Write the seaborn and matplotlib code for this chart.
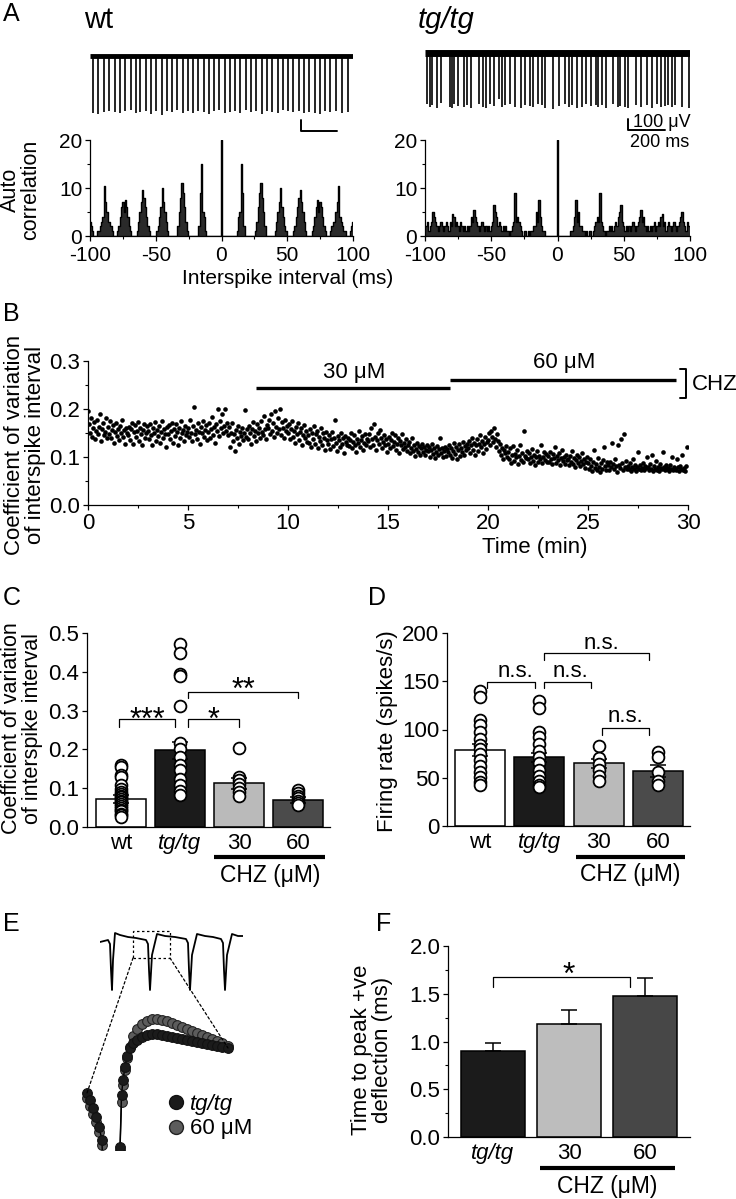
import numpy as np
import pandas as pd
import matplotlib
matplotlib.use('Agg')
import matplotlib.pyplot as plt
from matplotlib.patches import Rectangle, ConnectionPatch
from matplotlib.lines import Line2D
from matplotlib.ticker import MultipleLocator, FormatStrFormatter
import seaborn as sns

W, H = 736, 1199

# ---------------- A: raw traces (spike times in ms, spike depth in uV)
wt_spike_ms = [15, 45, 75, 106, 137, 166, 193, 224, 251, 278,
               306, 337, 364, 397, 424, 451, 482, 511, 539, 570,
               597, 628, 655, 684, 712, 743, 770, 801, 828, 859,
               888, 915, 946, 976, 1003, 1034, 1063, 1092, 1121, 1152,
               1179, 1210, 1238, 1267, 1298, 1325, 1358, 1389, 1420]
wt_spike_uv = [-520, -535, -510, -500, -515, -525, -505, -495, -520, -510,
               -500, -530, -505, -540, -500, -515, -495, -520, -505, -525,
               -500, -510, -530, -505, -495, -520, -510, -500, -525, -495,
               -515, -505, -530, -500, -510, -520, -495, -505, -515, -500,
               -525, -510, -520, -530, -500, -515, -505, -520, -510]
tg_spike_ms = [9, 28, 41, 68, 87, 135, 148, 161, 179, 213,
               231, 250, 296, 315, 333, 355, 376, 407, 422, 440,
               463, 490, 527, 546, 574, 592, 620, 638, 657, 703,
               731, 768, 786, 805, 833, 860, 879, 907, 934, 949,
               971, 993, 1027, 1055, 1067, 1097, 1110, 1156, 1184, 1215,
               1240, 1267, 1289, 1314, 1327, 1351, 1369, 1406, 1443]
tg_spike_uv = [-470, -490, -480, -500, -460, -490, -505, -470, -485, -495,
               -480, -500, -470, -490, -505, -465, -485, -420, -495, -480,
               -470, -490, -500, -475, -485, -495, -470, -480, -500, -510,
               -485, -470, -495, -480, -500, -490, -465, -485, -475, -495,
               -480, -500, -470, -490, -485, -495, -505, -475, -490, -480,
               -500, -470, -490, -485, -475, -495, -480, -490, -500]

# autocorrelograms: counts per 1 ms bin for lags 0..100 (symmetric histogram)
wt_acorr_pos = [20, 0, 0, 0, 0, 0, 0, 0, 0, 0,
                0, 0, 1, 4, 5, 15, 9, 2, 0, 0,
                0, 0, 0, 0, 0, 0, 1, 3, 6, 9,
                11, 8, 5, 2, 0, 0, 0, 0, 0, 0,
                0, 1, 3, 5, 7, 10, 6, 4, 2, 1,
                0, 0, 0, 0, 0, 1, 2, 4, 6, 8,
                9.5, 7, 5, 3, 1, 0, 0, 0, 0, 1,
                2, 4, 6, 7.5, 5, 7, 6, 4, 2, 1,
                0, 0, 0, 1, 2, 3, 3, 5, 7, 10.5,
                4, 3, 2, 1, 1, 0, 0, 0, 1, 2,
                3]
tg_acorr_pos = [20, 0, 0, 0, 0, 0, 0, 0, 0, 0,
                1, 1, 2, 4, 7.5, 3, 5, 2, 2, 1,
                1, 0, 1, 0, 1, 1, 0, 1, 2, 3,
                4, 3, 9, 3, 2, 1, 0, 1, 1, 2,
                1, 2, 1, 2, 3, 2, 4, 5, 6.5, 3,
                2, 1, 2, 1, 2, 1, 2, 3, 2, 1,
                2, 3, 4, 5.5, 3, 4, 2, 1, 2, 1,
                2, 1, 2, 3, 1, 2, 3, 2, 4, 4.5,
                2, 3, 1, 2, 3, 2, 1, 2, 3, 2,
                1, 2, 3, 4, 5, 3, 2, 1, 3, 2,
                2]

# ---------------- B: CV of ISI, 20 samples per minute (x 1/1000)
b_cv_rows = [
    [195, 168, 150, 182, 141, 160, 172, 137, 155, 178, 148, 163, 190, 134, 158, 170, 145, 152, 181, 140],
    [162, 148, 175, 139, 156, 167, 130, 153, 171, 144, 159, 136, 165, 150, 177, 142, 157, 128, 161, 149],
    [146, 163, 135, 158, 170, 127, 152, 166, 141, 155, 173, 133, 160, 147, 124, 157, 168, 139, 151, 164],
    [155, 138, 169, 145, 126, 160, 150, 172, 134, 157, 143, 165, 129, 153, 176, 140, 158, 147, 121, 162],
    [148, 166, 137, 155, 171, 130, 159, 144, 168, 152, 126, 161, 140, 174, 149, 157, 133, 164, 145, 153],
    [160, 142, 178, 151, 134, 165, 205, 147, 157, 138, 170, 153, 128, 162, 149, 175, 141, 156, 167, 136],
    [152, 171, 139, 158, 183, 146, 163, 130, 168, 155, 199, 143, 176, 160, 190, 149, 165, 200, 154, 170],
    [145, 162, 120, 150, 171, 133, 148, 112, 157, 139, 165, 127, 152, 144, 160, 135, 149, 198, 141, 158],
    [138, 165, 150, 127, 159, 172, 144, 155, 133, 168, 150, 161, 140, 175, 152, 146, 185, 158, 137, 166],
    [160, 177, 148, 189, 155, 170, 142, 196, 163, 151, 182, 158, 200, 146, 172, 160, 139, 178, 154, 165],
    [149, 168, 137, 158, 175, 142, 155, 129, 163, 147, 170, 135, 152, 160, 126, 146, 166, 140, 155, 132],
    [145, 130, 158, 120, 150, 138, 165, 127, 147, 155, 118, 142, 133, 160, 125, 149, 139, 115, 152, 136],
    [128, 145, 117, 138, 152, 123, 140, 178, 130, 112, 144, 135, 121, 150, 127, 139, 108, 143, 132, 125],
    [140, 122, 135, 150, 118, 132, 145, 126, 111, 138, 129, 155, 120, 136, 143, 115, 130, 148, 124, 137],
    [133, 147, 121, 160, 138, 126, 168, 142, 115, 135, 150, 128, 156, 140, 119, 132, 145, 124, 137, 110],
    [128, 142, 118, 135, 150, 122, 131, 145, 114, 127, 139, 108, 133, 125, 147, 116, 130, 121, 138, 112],
    [124, 132, 108, 119, 140, 113, 126, 102, 117, 130, 110, 122, 105, 118, 128, 111, 120, 104, 115, 125],
    [112, 120, 101, 115, 127, 106, 118, 98, 111, 123, 104, 116, 140, 108, 119, 100, 113, 121, 103, 117],
    [110, 125, 104, 118, 98, 113, 130, 107, 121, 96, 115, 127, 102, 119, 110, 132, 105, 122, 114, 128],
    [118, 133, 109, 126, 140, 115, 130, 105, 124, 137, 112, 128, 145, 120, 134, 108, 127, 141, 117, 131],
    [136, 150, 125, 155, 142, 131, 160, 138, 120, 147, 133, 112, 128, 104, 119, 96, 115, 108, 123, 100],
    [110, 95, 118, 88, 104, 122, 92, 107, 99, 115, 86, 102, 125, 94, 109, 90, 155, 103, 97, 112],
    [96, 108, 88, 101, 117, 92, 105, 84, 99, 112, 90, 103, 95, 125, 87, 100, 110, 93, 106, 89],
    [102, 90, 111, 95, 85, 106, 98, 120, 88, 103, 93, 109, 84, 97, 115, 91, 101, 86, 105, 94],
    [95, 84, 103, 90, 112, 86, 97, 80, 93, 105, 88, 99, 82, 92, 108, 85, 96, 78, 90, 101],
    [88, 75, 95, 82, 70, 90, 115, 78, 86, 72, 98, 80, 68, 87, 76, 93, 120, 81, 73, 89],
    [84, 72, 90, 79, 130, 86, 74, 95, 81, 69, 125, 83, 77, 138, 88, 73, 148, 80, 92, 76],
    [82, 74, 88, 71, 79, 95, 76, 84, 70, 80, 110, 75, 83, 72, 78, 87, 73, 81, 77, 100],
    [79, 72, 85, 75, 105, 71, 81, 76, 92, 73, 80, 70, 86, 77, 74, 110, 79, 72, 83, 76],
    [78, 71, 84, 74, 100, 72, 80, 76, 73, 96, 79, 70, 82, 75, 105, 73, 78, 71, 81, 120],
]

# ---------------- C / D: group means, SEM and single cells
groups = ['wt', 'tg/tg', '30', '60']
bar_colors = ['white', '#1b1b1b', '#bababa', '#4b4b4b']
c_mean = [0.073, 0.198, 0.113, 0.070]
c_sem = [0.010, 0.022, 0.014, 0.007]
c_pts_wt = [0.160, 0.155, 0.134, 0.128, 0.108, 0.098, 0.090, 0.086, 0.081, 0.077, 0.073,
            0.068, 0.064, 0.060, 0.055, 0.050, 0.045, 0.040, 0.034, 0.030, 0.026]
c_pts_tg = [0.472, 0.448, 0.395, 0.388, 0.312, 0.216, 0.200, 0.180, 0.161, 0.147, 0.125, 0.108, 0.092, 0.083]
c_pts_30 = [0.204, 0.130, 0.121, 0.110, 0.100, 0.090, 0.080]
c_pts_60 = [0.095, 0.088, 0.081, 0.075, 0.068, 0.062, 0.057]

d_mean = [79, 71, 65, 57]
d_sem = [6, 5, 4.5, 6]
d_pts_wt = [140, 134, 110, 105, 97, 90, 84, 80, 75, 68, 62, 56, 51, 46, 43]
d_pts_tg = [130, 122, 97, 92, 85, 78, 72, 65, 58, 52, 47, 43, 40]
d_pts_30 = [83, 70, 64, 58, 52, 47]
d_pts_60 = [77, 72, 56, 47, 43]

# ---------------- E: averaged waveform (arbitrary time units / uV)
e_t = [0, 8, 10, 11, 12, 13, 15, 20, 28, 36, 46, 48, 49, 50, 52, 57, 65, 75, 86, 88,
       89, 90, 92, 97, 105, 113, 121, 123, 124, 125, 127, 132, 138, 143]
e_v = [-2, 0, -4, -30, -50, -20, 7, 5, 3, 2, 0, -4, -30, -50, -15, 6, 4, 3, 1, -3,
       -30, -50, -15, 6, 4, 3, 1, -3, -30, -50, -15, 6, 4, 4]
inset_t = [0.00, 0.03, 0.06, 0.09, 0.12, 0.15, 0.22, 0.30, 0.33, 0.345,
           0.36, 0.38, 0.40, 0.43, 0.46, 0.50, 0.55, 0.60, 0.65, 0.70,
           0.75, 0.80, 0.85, 0.90, 0.95, 1.00, 1.05, 1.10, 1.15, 1.20,
           1.25, 1.30, 1.35, 1.41]
tg_inset = [-43, -50, -58, -67, -77, -90, -400, -400, -97, -45,
            -30, -17, -6, 2, 7, 10, 13, 15, 16, 16,
            15, 14, 13, 12, 11, 10, 9, 8, 7, 6,
            5, 4, 3, 2]
chz_inset = [-48, -56, -64, -72, -82, -95, -400, -400, -100, -52,
             -35, -20, -8, 3, 14, 21, 26, 29, 31, 31,
             30, 29, 27, 25, 23, 21, 19, 17, 15, 13,
             11, 9, 7, 4]

# ---------------- F: time to peak
f_groups = ['tg/tg', '30', '60']
f_colors = ['#1b1b1b', '#bdbdbd', '#474747']
f_mean = [0.90, 1.18, 1.475]
f_sem = [0.08, 0.145, 0.19]

# ------------------------------------------------------------------
sns.set_theme(style='ticks')
plt.rcParams['font.family'] = ['Liberation Sans', 'DejaVu Sans']
plt.rcParams.update({
    'axes.unicode_minus': False, 'axes.facecolor': 'none',
    'axes.edgecolor': 'black', 'axes.linewidth': 0.9,
    'xtick.color': 'black', 'ytick.color': 'black', 'text.color': 'black',
    'xtick.major.width': 0.9, 'ytick.major.width': 0.9,
    'xtick.minor.width': 0.8, 'ytick.minor.width': 0.8,
    'xtick.major.size': 3.5, 'ytick.major.size': 3.5,
    'xtick.minor.size': 2, 'ytick.minor.size': 2,
    'xtick.labelsize': 16, 'ytick.labelsize': 16,
    'xtick.major.pad': 2, 'ytick.major.pad': 2,
})
FS = 16

fig = plt.figure(figsize=(W / 100, H / 100), dpi=100)


def add_ax(l, t, r, b):
    return fig.add_axes([l / W, 1 - b / H, (r - l) / W, (b - t) / H])


def ftext(x, y, s, **kw):
    fig.text(x / W, 1 - y / H, s, **kw)


def draw_trace(ax, times, depths, band):
    ax.plot([0, 1450], [0, 0], color='black', lw=band, solid_capstyle='butt')
    ax.vlines(times, depths, 0, color='black', lw=1.2)
    ax.set_xlim(0, 1450)
    ax.set_ylim(-540, 100)
    ax.axis('off')


def draw_acorr(ax, pos):
    lags = np.arange(-100, 101)
    counts = pos[:0:-1] + pos
    ax.fill_between(lags, counts, step='mid', color='#2a2a2a', lw=0)
    ax.step(lags, counts, where='mid', color='black', lw=1.0)
    ax.set_xlim(-100, 100)
    ax.set_ylim(0, 20)
    ax.xaxis.set_major_locator(MultipleLocator(50))
    ax.xaxis.set_minor_locator(MultipleLocator(25))
    ax.yaxis.set_major_locator(MultipleLocator(10))
    ax.yaxis.set_minor_locator(MultipleLocator(5))
    ax.tick_params(labelsize=15)
    ax.tick_params(axis='x', pad=3.5)
    sns.despine(ax=ax)


def bracket(ax, x1, x2, top, tip, lw=0.9):
    ax.plot([x1, x1, x2, x2], [tip, top, top, tip], color='black', lw=lw, clip_on=False)


# ---------------- panel A
ftext(3, 14, 'A', fontsize=18, va='center')
ftext(84, 20, 'wt', fontsize=21, va='center')
ftext(418, 20, 'tg/tg', fontsize=21, va='center', style='italic')

ax = add_ax(90, 45, 353, 115)
draw_trace(ax, wt_spike_ms, wt_spike_uv, 3.5)
ax.plot([1161, 1161, 1361], [-586, -686, -686], color='black', lw=1.4, clip_on=False)

ax = add_ax(425, 42, 690, 112)
draw_trace(ax, tg_spike_ms, tg_spike_uv, 5)
ax.plot([1111, 1111, 1311], [-604, -704, -704], color='black', lw=1.4, clip_on=False)
ax.text(1140, -640, '100 μV', fontsize=13, va='center', ha='left')
ax.text(1122, -820, '200 ms', fontsize=13, va='center', ha='left')

ax = add_ax(90, 140, 353, 236)
draw_acorr(ax, wt_acorr_pos)
ax = add_ax(425, 140, 690, 236)
draw_acorr(ax, tg_acorr_pos)
ftext(21, 190, 'Auto\ncorrelation', fontsize=15.5, rotation=90, ha='center', va='center',
      multialignment='center', linespacing=0.95)
ftext(288, 278, 'Interspike interval (ms)', fontsize=15, ha='center', va='center')

# ---------------- panel B
ftext(3, 314, 'B', fontsize=18, va='center')
ax = add_ax(88, 361, 688, 505)
b_cv = np.array(b_cv_rows).ravel() / 1000
b_t = np.arange(b_cv.size) / 20
sns.scatterplot(x=b_t, y=b_cv, s=11, color='black', linewidth=0, ax=ax)
ax.set_xlim(0, 30)
ax.set_ylim(0, 0.3)
ax.xaxis.set_major_locator(MultipleLocator(5))
ax.xaxis.set_minor_locator(MultipleLocator(2.5))
ax.yaxis.set_major_locator(MultipleLocator(0.1))
ax.yaxis.set_minor_locator(MultipleLocator(0.05))
ax.yaxis.set_major_formatter(FormatStrFormatter('%.1f'))
sns.despine(ax=ax)
ax.plot([8.4, 18.1], [0.244, 0.244], color='black', lw=2.4, solid_capstyle='butt', clip_on=False)
ax.plot([18.1, 29.4], [0.260, 0.260], color='black', lw=2.4, solid_capstyle='butt', clip_on=False)
ax.text(13.3, 0.277, '30 μM', fontsize=FS, ha='center', va='center')
ax.text(23.8, 0.296, '60 μM', fontsize=FS, ha='center', va='center')
ax.plot([29.6, 29.9, 29.9, 29.6], [0.283, 0.283, 0.223, 0.223], color='black', lw=1.4, clip_on=False)
ax.text(30.2, 0.252, 'CHZ', fontsize=FS, ha='left', va='center')
ftext(25, 445, 'Coefficient of variation\nof interspike interval', fontsize=FS, rotation=90,
      ha='center', va='center', multialignment='center', linespacing=0.95)
ftext(535, 548, 'Time (min)', fontsize=FS, ha='center', va='center')


def bar_panel(ax, names, means, sems, colors, pts=None, upper_only=False):
    pal = dict(zip(names, colors))
    sns.barplot(x=names, y=means, hue=names, palette=pal, edgecolor='black', linewidth=1.1,
                width=0.84, legend=False, ax=ax, zorder=2)
    yerr = [[0] * len(sems), sems] if upper_only else sems
    ax.errorbar(range(len(means)), means, yerr=yerr, fmt='none', ecolor='black',
                elinewidth=1.1, capsize=5.5, capthick=1.1, zorder=3)
    if pts is not None:
        df = pd.concat([pd.DataFrame({'g': n, 'v': p}) for n, p in zip(names, pts)])
        sns.stripplot(data=df, x='g', y='v', order=names, jitter=False, color='white',
                      edgecolor='black', linewidth=1.3, size=8.5, ax=ax, zorder=4)
    ax.set_xlabel('')
    ax.set_ylabel('')
    ax.tick_params(axis='x', length=0, pad=4)
    for lab in ax.get_xticklabels():
        if lab.get_text() == 'tg/tg':
            lab.set_style('italic')
    sns.despine(ax=ax)


def chz_label(ax, x1, x2, yline, ytext):
    tr = ax.get_xaxis_transform()
    ax.plot([x1, x2], [yline, yline], color='black', lw=3, transform=tr, clip_on=False,
            solid_capstyle='butt')
    ax.text((x1 + x2) / 2, ytext, 'CHZ (μM)', fontsize=16.5, ha='center', va='center',
            transform=tr)


# ---------------- panel C
ftext(3, 598, 'C', fontsize=18, va='center')
ax = add_ax(87, 633, 330, 827)
bar_panel(ax, groups, c_mean, c_sem, bar_colors, [c_pts_wt, c_pts_tg, c_pts_30, c_pts_60])
ax.set_xlim(-0.576, 3.54)
ax.set_ylim(0, 0.5)
ax.yaxis.set_major_locator(MultipleLocator(0.1))
ax.yaxis.set_major_formatter(FormatStrFormatter('%.1f'))
bracket(ax, -0.03, 0.92, 0.2776, 0.2585)
bracket(ax, 1.14, 2.0, 0.2776, 0.2585)
bracket(ax, 1.14, 3.0, 0.3487, 0.3316)
ax.text(0.44, 0.2526, '***', fontsize=22, ha='center', va='baseline')
ax.text(1.56, 0.2526, '*', fontsize=22, ha='center', va='baseline')
ax.text(2.07, 0.330, '**', fontsize=22, ha='center', va='baseline')
chz_label(ax, 1.58, 3.46, -0.155, -0.25)
ftext(22, 728, 'Coefficient of variation\nof interspike interval', fontsize=15.5, rotation=90,
      ha='center', va='center', multialignment='center', linespacing=0.95)

# ---------------- panel D
ftext(368, 598, 'D', fontsize=18, va='center')
ax = add_ax(447, 633, 690, 826)
bar_panel(ax, groups, d_mean, d_sem, bar_colors, [d_pts_wt, d_pts_tg, d_pts_30, d_pts_60])
ax.set_xlim(-0.556, 3.54)
ax.set_ylim(0, 200)
ax.yaxis.set_major_locator(MultipleLocator(50))
bracket(ax, 0.12, 0.93, 149.5, 143)
bracket(ax, 1.08, 1.87, 149.5, 143)
bracket(ax, 1.08, 2.85, 179.5, 172)
bracket(ax, 2.06, 2.85, 101.5, 94)
ax.text(0.59, 160, 'n.s.', fontsize=FS, ha='center', va='center')
ax.text(1.52, 160, 'n.s.', fontsize=FS, ha='center', va='center')
ax.text(2.04, 189, 'n.s.', fontsize=FS, ha='center', va='center')
ax.text(2.46, 113, 'n.s.', fontsize=FS, ha='center', va='center')
chz_label(ax, 1.62, 3.46, -0.16, -0.25)
ftext(388, 731, 'Firing rate (spikes/s)', fontsize=FS, rotation=90, ha='center', va='center')

# ---------------- panel E
ftext(3, 924, 'E', fontsize=18, va='center')
ax_e = add_ax(100, 925, 243, 1000)
ax_e.plot(e_t, e_v, color='black', lw=1.3)
ax_e.set_xlim(0, 143)
ax_e.set_ylim(-60, 15)
ax_e.axis('off')
ax_e.add_patch(Rectangle((33, -18), 37, 27, fill=False, ls=(0, (2, 2)), lw=0.9, ec='black'))

ax_in = add_ax(80, 1005, 235, 1150)
ax_in.plot(inset_t, chz_inset, color='black', lw=1.0, marker='o', ms=7, mfc='#5c5c5c',
           mec='#222222', mew=0.8)
ax_in.plot(inset_t, tg_inset, color='black', lw=1.0, marker='o', ms=7, mfc='#1b1b1b',
           mec='#111111', mew=0.8)
ax_in.set_xlim(-0.07, 1.48)
ax_in.set_ylim(-100, 45)
ax_in.axis('off')
for pa, pb in [((33, -18), (0.0, -43)), ((70, -18), (1.41, 2))]:
    con = ConnectionPatch(xyA=pa, coordsA=ax_e.transData, xyB=pb, coordsB=ax_in.transData,
                          ls=(0, (2, 2)), lw=0.9, color='black')
    fig.add_artist(con)
handles = [Line2D([], [], ls='', marker='o', ms=10, mfc='#1b1b1b', mec='#111111'),
           Line2D([], [], ls='', marker='o', ms=10, mfc='#5c5c5c', mec='#222222')]
leg = ax_in.legend(handles, ['tg/tg', '60 μM'], loc='upper left', frameon=False, fontsize=FS,
                   bbox_to_anchor=(157 / W, 1 - 1083 / H), bbox_transform=fig.transFigure,
                   handlelength=0.7, handletextpad=0.3, labelspacing=0.15, borderpad=0)
leg.get_texts()[0].set_style('italic')

# ---------------- panel F
ftext(376, 924, 'F', fontsize=18, va='center')
ax = add_ax(448, 946, 690, 1137)
bar_panel(ax, f_groups, f_mean, f_sem, f_colors, upper_only=True)
ax.set_xlim(-0.59, 2.59)
ax.set_ylim(0, 2.0)
ax.yaxis.set_major_locator(MultipleLocator(0.5))
ax.yaxis.set_minor_locator(MultipleLocator(0.25))
ax.yaxis.set_major_formatter(FormatStrFormatter('%.1f'))
bracket(ax, 0.0, 1.8, 1.678, 1.567)
ax.text(0.99, 1.60, '*', fontsize=23, ha='center', va='baseline')
chz_label(ax, 0.62, 2.39, -0.162, -0.257)
ftext(372, 1050, 'Time to peak +ve\ndeflection (ms)', fontsize=FS, rotation=90,
      ha='center', va='center', multialignment='center', linespacing=0.95)

fig.savefig('out.png', dpi=100, facecolor='white')
